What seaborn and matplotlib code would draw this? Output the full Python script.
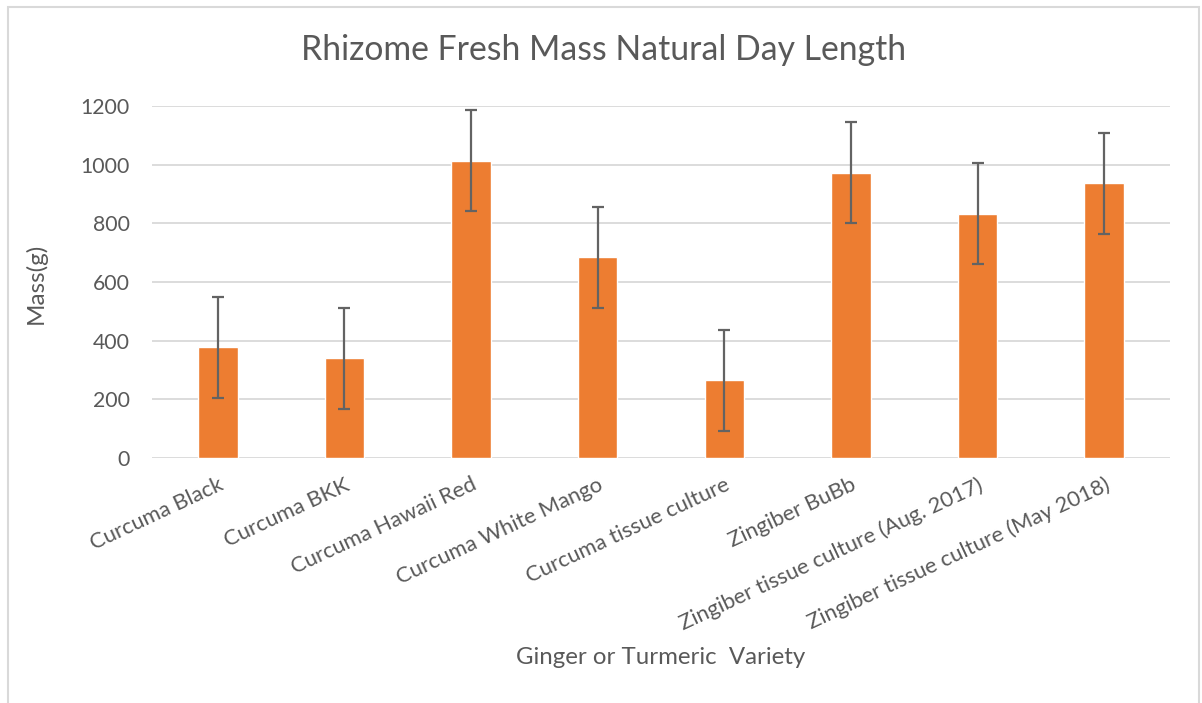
import numpy as np
import pandas as pd
import matplotlib
matplotlib.use("Agg")
import matplotlib.pyplot as plt
import seaborn as sns
from matplotlib.patches import Rectangle

varieties = [
    "Curcuma Black",
    "Curcuma BKK",
    "Curcuma Hawaii Red",
    "Curcuma White Mango",
    "Curcuma tissue culture",
    "Zingiber BuBb",
    "Zingiber tissue culture (Aug. 2017)",
    "Zingiber tissue culture (May 2018)",
]
mass = [377, 340, 1014, 684, 265, 972, 832, 936]
mass_err = [172, 172, 172, 172, 172, 172, 172, 172]
y_ticks = [0, 200, 400, 600, 800, 1000, 1200]

TEXT = "#595959"
BAR = "#ED7D31"
GRID = "#D9D9D9"

sns.set_style("white")
plt.rcParams["font.family"] = ["Lato", "DejaVu Sans"]

df = pd.DataFrame({"variety": varieties, "mass": mass})

fig = plt.figure(figsize=(12.02, 7.03), dpi=100)
ax = fig.add_axes([152 / 1202, 1 - 458 / 703, (1170 - 152) / 1202, (458 - 106) / 703])

sns.barplot(data=df, x="variety", y="mass", color=BAR, width=0.31,
            saturation=1, ax=ax, errorbar=None, zorder=2)
ax.errorbar(np.arange(len(varieties)), mass, yerr=mass_err, fmt="none",
            ecolor="#636363", elinewidth=1.6, capsize=4.5, capthick=1.6, zorder=3)

ax.set_ylim(0, 1200)
ax.set_yticks(y_ticks)
ax.set_yticklabels([str(v) for v in y_ticks], fontsize=15.3, color=TEXT)
ax.yaxis.grid(True, color=GRID, linewidth=1.3, zorder=0)
ax.set_axisbelow(True)
for s in ax.spines.values():
    s.set_visible(False)
ax.tick_params(axis="y", length=0, pad=16)
ax.tick_params(axis="x", length=0, pad=12)

ax.set_xticks(np.arange(len(varieties)))
ax.set_xticklabels(varieties, rotation=25, ha="right", rotation_mode="anchor",
                   fontsize=15.8, color=TEXT)

ax.set_xlabel("Ginger or Turmeric  Variety", fontsize=17.3, color=TEXT, va="center")
ax.xaxis.set_label_coords((661 - 152) / 1018, (458 - 657) / 352)
ax.set_ylabel("Mass(g)", fontsize=17.5, color=TEXT, va="center")
ax.yaxis.set_label_coords((36 - 152) / 1018, (458 - 283) / 352)
fig.text(604 / 1202, 1 - 50 / 703, "Rhizome Fresh Mass Natural Day Length",
         ha="center", va="center", fontsize=24.3, color=TEXT)

# chart border like the spreadsheet frame
fig.patches.append(Rectangle((8 / 1202, -0.05), (1199 - 8) / 1202, 1.05 - 7 / 703,
                             transform=fig.transFigure, fill=False,
                             edgecolor=GRID, linewidth=1.5))

plt.savefig("out.png", dpi=100, facecolor="white")
plt.close()
